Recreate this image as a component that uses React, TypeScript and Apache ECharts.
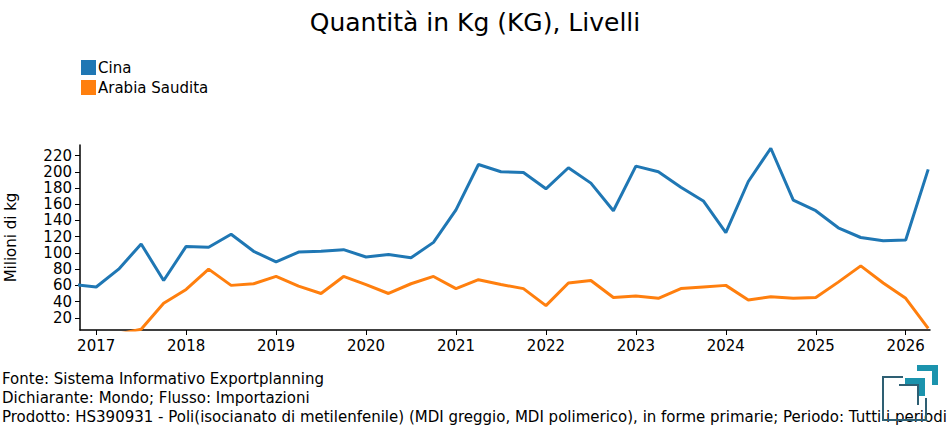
import React, { useEffect, useRef } from "react";
import * as echarts from "echarts";

const startYear = 2016.75; // first quarter shown (Q4 2016)
const cina = [61, 58, 80, 111, 66, 108, 107, 123, 102, 89, 101, 102, 104, 95, 98, 94, 113, 153, 209, 200, 199, 179, 205, 186, 152, 207, 200, 181, 164, 125, 188, 229, 165, 152, 131, 119, 115, 116, 203];
const arabia = [0, 0, 0, 6, 38, 55, 80, 60, 62, 71, 59, 50, 71, 61, 50, 62, 71, 56, 67, 61, 56, 35, 63, 66, 45, 47, 44, 56, 58, 60, 42, 46, 44, 45, 64, 84, 63, 44, 7];
const yTicks = [20, 40, 60, 80, 100, 120, 140, 160, 180, 200, 220];
const xTicks = [2017, 2018, 2019, 2020, 2021, 2022, 2023, 2024, 2025, 2026];
const footer = [
  "Fonte: Sistema Informativo Exportplanning",
  "Dichiarante: Mondo; Flusso: Importazioni",
  "Prodotto: HS390931 - Poli(isocianato di metilenfenile) (MDI greggio, MDI polimerico), in forme primarie; Periodo: Tutti i periodi",
];

const font = "DejaVu Sans";
const toPts = (vals: number[]) => vals.map((v, i) => [startYear + i * 0.25, v]);

const App: React.FC = () => {
  const ref = useRef<HTMLDivElement>(null);

  useEffect(() => {
    if (!ref.current) return;
    const chart = echarts.init(ref.current, null, { renderer: "svg" });
    const dark = "#2e5f73";
    const teal = "#1b93ad";
    chart.setOption({
      animation: false,
      textStyle: { fontFamily: font },
      title: {
        text: "Quantità in Kg (KG), Livelli",
        left: "center",
        top: 5,
        textStyle: { fontFamily: font, fontSize: 25, fontWeight: "normal", color: "#000" },
      },
      legend: {
        orient: "vertical",
        left: 76,
        top: 55,
        itemWidth: 15,
        itemHeight: 15,
        itemGap: 5,
        icon: "rect",
        textStyle: { fontFamily: font, fontSize: 15, color: "#000", padding: [0, 0, 0, -3] },
      },
      grid: { left: 80, right: 20, top: 145, bottom: 105, containLabel: false, outerBoundsMode: "none" },
      xAxis: {
        type: "value",
        min: 2016.82,
        max: 2026.27,
        splitLine: { show: false },
        axisLine: { lineStyle: { color: "#000", width: 1.5 } },
        axisTick: { customValues: xTicks, lineStyle: { color: "#000" }, length: 5 },
        axisLabel: { customValues: xTicks, formatter: (v: number) => String(v), color: "#000", fontSize: 15, fontFamily: font },
      },
      yAxis: {
        type: "value",
        min: 5,
        max: 233,
        name: "Milioni di kg",
        nameLocation: "middle",
        nameGap: 62,
        nameTextStyle: { fontFamily: font, fontSize: 15, color: "#000" },
        splitLine: { show: false },
        axisLine: { show: true, lineStyle: { color: "#000", width: 1.5 } },
        axisTick: { show: true, customValues: yTicks, lineStyle: { color: "#000" }, length: 5 },
        axisLabel: { customValues: yTicks, color: "#000", fontSize: 15, fontFamily: font, margin: 8 },
      },
      series: [
        { name: "Cina", type: "line", data: toPts(cina), showSymbol: false, clip: true, color: "#1f77b4", lineStyle: { width: 3 } },
        { name: "Arabia Saudita", type: "line", data: toPts(arabia), showSymbol: false, clip: true, color: "#ff7f0e", lineStyle: { width: 3 } },
      ],
      graphic: [
        ...footer.map((t, i) => ({
          type: "text",
          left: 2,
          top: 371 + i * 19,
          style: { text: t, font: `15px '${font}'`, fill: "#000" },
        })),
        { type: "polyline", shape: { points: [[903, 377], [883, 377], [883, 420], [926, 420], [926, 398]] }, style: { stroke: dark, lineWidth: 2, fill: "none" } },
        { type: "polyline", shape: { points: [[899, 385], [918, 385], [918, 405]] }, style: { stroke: dark, lineWidth: 2, fill: "none" } },
        { type: "polyline", shape: { points: [[905, 381], [922, 381], [922, 396]] }, style: { stroke: teal, lineWidth: 6, fill: "none" } },
        { type: "polyline", shape: { points: [[917, 368], [935, 368], [935, 385]] }, style: { stroke: teal, lineWidth: 6, fill: "none" } },
      ],
    });
    return () => chart.dispose();
  }, []);

  return <div ref={ref} style={{ position: "absolute", left: 0, top: 0, width: 950, height: 435 }} />;
};

export default App;
